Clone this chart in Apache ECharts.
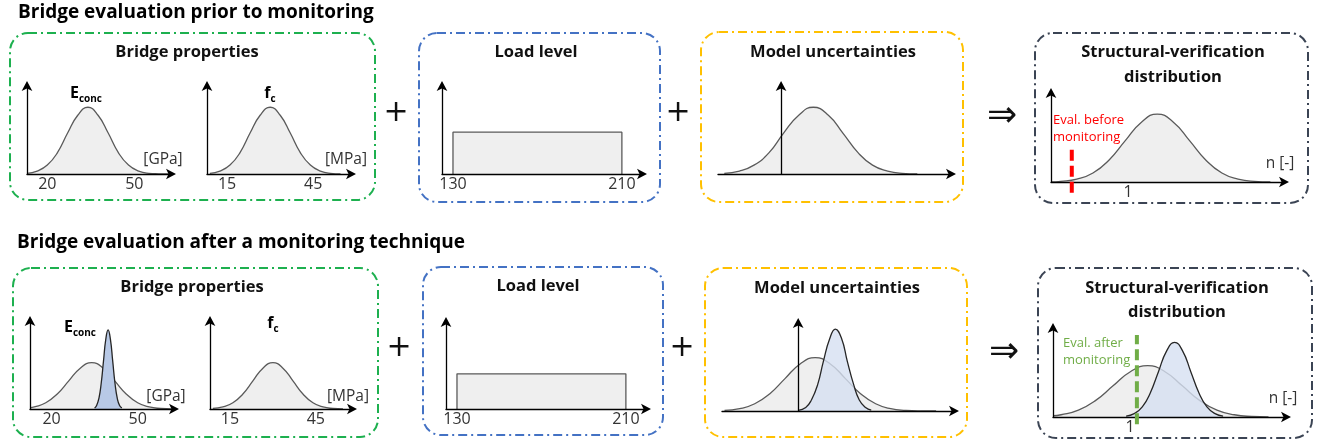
<!DOCTYPE html>
<html>
<head>
<meta charset="utf-8">
<script src="https://cdn.jsdelivr.net/npm/echarts/dist/echarts.min.js"></script>
<style>
html,body{margin:0;padding:0;background:#fff;}
#chart{width:1322px;height:448px;}
</style>
</head>
<body>
<div id="chart"></div>
<script>
// ---------------- DATA ----------------
// tick labels
const econcTicks = [20, 50];
const fcTicks = [15, 45];
const loadTicks = [130, 210];
const structTicks = [1];

// Prior row
const econcPriorX = [13, 16.5, 20, 23.5, 27, 30.5, 34, 37.5, 41, 44.5, 48, 51.5, 55, 58.5, 62];
const econcPriorY = [0.008, 0.033, 0.10, 0.24, 0.46, 0.66, 0.75, 0.66, 0.46, 0.24, 0.10, 0.033, 0.008, 0.002, 0.0];
const fcPriorX = [9, 12.5, 16, 19.5, 23, 26.5, 30, 33.5, 37, 40.5, 44, 47.5, 51, 54.5];
const fcPriorY = [0.008, 0.033, 0.10, 0.24, 0.46, 0.66, 0.75, 0.66, 0.46, 0.24, 0.10, 0.033, 0.008, 0.002];
const loadX = [130, 130, 210, 210];
const loadPriorY = [0, 0.47, 0.47, 0];
const modelPriorX = [-0.9, -0.66, -0.43, -0.19, 0.04, 0.28, 0.51, 0.75, 0.98, 1.22, 1.45, 1.69, 1.92, 2.16];
const modelPriorY = [0.008, 0.033, 0.10, 0.24, 0.46, 0.66, 0.75, 0.66, 0.46, 0.24, 0.10, 0.033, 0.008, 0.002];
const structPriorX = [0, 0.125, 0.335, 0.545, 0.755, 0.965, 1.175, 1.38, 1.59, 1.80, 2.01, 2.22, 2.43, 2.64, 2.85];
const structPriorY = [0.002, 0.008, 0.033, 0.10, 0.245, 0.46, 0.665, 0.755, 0.665, 0.46, 0.245, 0.10, 0.033, 0.008, 0.002];
const evalBeforeX = [0.27, 0.27];
const evalBeforeY = [-0.12, 0.38];

// After-monitoring row
const econcAfterGreyX = [12.5, 14, 18, 22, 26, 30, 34, 38, 42, 46, 50, 54, 58, 62];
const econcAfterGreyY = [0.014, 0.023, 0.07, 0.169, 0.316, 0.459, 0.52, 0.459, 0.316, 0.169, 0.07, 0.023, 0.006, 0.001];
const econcAfterBlueX = [35, 35.7, 36.5, 37.3, 38.1, 38.9, 39.7, 40.5, 41.3, 42.1, 42.9, 43.7, 44.5];
const econcAfterBlueY = [0.012, 0.039, 0.12, 0.289, 0.54, 0.785, 0.89, 0.785, 0.54, 0.289, 0.12, 0.039, 0.012];
const fcAfterX = [9, 12.5, 16, 19.5, 23, 26.5, 30, 33.5, 37, 40.5, 44, 47.5, 51, 54.5];
const fcAfterY = [0.006, 0.023, 0.07, 0.169, 0.316, 0.459, 0.52, 0.459, 0.316, 0.169, 0.07, 0.023, 0.006, 0.001];
const loadAfterY = [0, 0.40, 0.40, 0];
const modelAfterGreyX = [-1.17, -0.93, -0.69, -0.45, -0.21, 0.03, 0.27, 0.51, 0.75, 0.99, 1.23, 1.47, 1.71, 1.95, 2.19];
const modelAfterGreyY = [0.007, 0.026, 0.081, 0.195, 0.364, 0.529, 0.60, 0.529, 0.364, 0.195, 0.081, 0.026, 0.007, 0.001, 0];
const modelAfterBlueX = [0, 0.12, 0.21, 0.31, 0.40, 0.50, 0.59, 0.69, 0.78, 0.88, 0.97, 1.07, 1.16];
const modelAfterBlueY = [0.008, 0.040, 0.124, 0.299, 0.558, 0.811, 0.92, 0.811, 0.558, 0.299, 0.124, 0.040, 0.010];
const structAfterGreyX = [0, 0.105, 0.33, 0.555, 0.78, 1.005, 1.23, 1.455, 1.68, 1.905, 2.13, 2.355, 2.58, 2.8];
const structAfterGreyY = [0.014, 0.025, 0.077, 0.185, 0.346, 0.503, 0.57, 0.503, 0.346, 0.185, 0.077, 0.025, 0.006, 0.001];
const structAfterBlueX = [0.95, 1.055, 1.16, 1.265, 1.37, 1.475, 1.58, 1.685, 1.79, 1.895, 2.0, 2.105, 2.21];
const structAfterBlueY = [0.009, 0.037, 0.112, 0.27, 0.504, 0.732, 0.83, 0.732, 0.504, 0.27, 0.112, 0.037, 0.009];
const evalAfterX = [1.09, 1.09];
const evalAfterY = [-0.08, 0.91];

// ---------------- LAYOUT / STYLE ----------------
const FONT = '"Open Sans", "Noto Sans", sans-serif';
const GREY_FILL = '#efefef', GREY_LINE = '#5a5a5a';
const BLUE_FILL = '#b8c9e6', BLUE_FILL2 = '#d6e0f1', BLUE_LINE = '#262626';

const panels = [
  // top row
  {rect:[27, 85, 145, 89], min:13, max:63, ticks:econcTicks},
  {rect:[207, 85, 145, 89], min:8, max:58.5, ticks:fcTicks},
  {rect:[442, 85, 201, 89], min:124.8, max:220, ticks:loadTicks},
  {rect:[718, 85, 234, 89], min:-1.0, max:2.71, ticks:[]},
  {rect:[1051, 92, 234, 90], min:0, max:3.04, ticks:structTicks},
  // bottom row
  {rect:[30, 320, 145, 89], min:12.5, max:63, ticks:econcTicks},
  {rect:[210, 320, 143, 89], min:8, max:58, ticks:fcTicks},
  {rect:[446, 321, 201, 88], min:124.8, max:220, ticks:loadTicks},
  {rect:[722, 322, 233, 89], min:-1.21, max:2.49, ticks:[]},
  {rect:[1053, 327, 234, 90], min:0, max:3.04, ticks:structTicks}
];

const axisLineStyle = {color:'#000', width:1.3};
const grids = [], xAxes = [], yAxes = [];
panels.forEach((p, i) => {
  grids.push({left:p.rect[0], top:p.rect[1], width:p.rect[2], height:p.rect[3], containLabel:false});
  xAxes.push({
    gridIndex:i, type:'value', min:p.min, max:p.max, z:5,
    axisLine:{show:true, onZero:true, symbol:['none','arrow'], symbolSize:[8,10], symbolOffset:[0,4], lineStyle:axisLineStyle},
    axisTick:{show:false}, splitLine:{show:false},
    axisLabel:{show:p.ticks.length > 0, customValues:p.ticks, fontSize:16, color:'#333', margin:2, fontFamily:FONT, hideOverlap:false}
  });
  yAxes.push({
    gridIndex:i, type:'value', min:0, max:1, z:5,
    axisLine:{show:true, onZero:true, symbol:['none','arrow'], symbolSize:[8,10], symbolOffset:[0,4], lineStyle:axisLineStyle},
    axisTick:{show:false}, splitLine:{show:false}, axisLabel:{show:false}
  });
});

function zip(xs, ys){ return xs.map((x, i) => [x, ys[i]]); }
function curve(gi, xs, ys, fill, stroke, z, fillOpacity, smooth){
  return {
    type:'line', xAxisIndex:gi, yAxisIndex:gi, data:zip(xs, ys),
    smooth: smooth === undefined ? true : smooth,
    symbol:'none', showSymbol:false, silent:true, z:z,
    lineStyle:{color:stroke, width:1.3},
    areaStyle:{color:fill, opacity:fillOpacity === undefined ? 1 : fillOpacity}
  };
}
function evalLine(gi, xs, ys, color){
  return {
    type:'line', xAxisIndex:gi, yAxisIndex:gi, data:zip(xs, ys), clip:false,
    symbol:'none', showSymbol:false, silent:true, z:10,
    lineStyle:{color:color, width:4, type:[11,5]}
  };
}

const series = [
  curve(0, econcPriorX, econcPriorY, GREY_FILL, GREY_LINE, 2),
  curve(1, fcPriorX, fcPriorY, GREY_FILL, GREY_LINE, 2),
  curve(2, loadX, loadPriorY, GREY_FILL, GREY_LINE, 2, 1, false),
  curve(3, modelPriorX, modelPriorY, GREY_FILL, GREY_LINE, 2),
  curve(4, structPriorX, structPriorY, GREY_FILL, GREY_LINE, 2),
  evalLine(4, evalBeforeX, evalBeforeY, '#ff0000'),
  curve(5, econcAfterGreyX, econcAfterGreyY, GREY_FILL, GREY_LINE, 2),
  curve(5, econcAfterBlueX, econcAfterBlueY, BLUE_FILL, BLUE_LINE, 3, 1),
  curve(6, fcAfterX, fcAfterY, GREY_FILL, GREY_LINE, 2),
  curve(7, loadX, loadAfterY, GREY_FILL, GREY_LINE, 2, 1, false),
  curve(8, modelAfterGreyX, modelAfterGreyY, GREY_FILL, GREY_LINE, 2),
  curve(8, modelAfterBlueX, modelAfterBlueY, BLUE_FILL2, BLUE_LINE, 3, 0.8),
  curve(9, structAfterGreyX, structAfterGreyY, GREY_FILL, GREY_LINE, 2),
  curve(9, structAfterBlueX, structAfterBlueY, BLUE_FILL2, BLUE_LINE, 3, 0.8),
  evalLine(9, evalAfterX, evalAfterY, '#70ad47')
];

// ---------------- GRAPHICS (boxes, texts) ----------------
const DASH = [9, 4, 2, 4];
function box(x, y, w, h, color){
  return {type:'rect', z:1, silent:true, shape:{x:x, y:y, width:w, height:h, r:18},
    style:{fill:'none', stroke:color, lineWidth:2, lineDash:DASH}};
}
function txt(x, y, text, size, weight, color, align, family){
  return {type:'text', x:x, y:y, z:20, silent:true,
    style:{text:text, fontSize:size, fontWeight:weight || 'normal', fontFamily:family || FONT,
      fill:color || '#000', align:align || 'center', verticalAlign:'middle'}};
}
function sub(x, y, main, low){
  return {type:'text', x:x, y:y, z:20, silent:true,
    style:{text:'{a|' + main + '}{b|' + low + '}', align:'center', verticalAlign:'middle',
      rich:{
        a:{fontSize:16, fontWeight:'bold', fontFamily:FONT, fill:'#000', lineHeight:20, verticalAlign:'bottom'},
        b:{fontSize:10, fontWeight:'bold', fontFamily:FONT, fill:'#000', lineHeight:14, verticalAlign:'bottom', padding:[0,0,-3,0]}
      }}};
}

const C_GREEN = '#1db04f', C_BLUE = '#4472c4', C_YELLOW = '#ffc000', C_DARK = '#3b4454';
const graphic = [
  txt(18, 13, 'Bridge evaluation prior to monitoring', 19, 'bold', '#000', 'left'),
  txt(17, 243, 'Bridge evaluation after a monitoring technique', 19, 'bold', '#000', 'left'),
  // top boxes
  box(10, 33, 365, 167, C_GREEN),
  box(419, 33, 241, 169, C_BLUE),
  box(701, 32, 262, 170, C_YELLOW),
  box(1035, 33, 273, 170, C_DARK),
  // bottom boxes
  box(13, 268, 365, 169, C_GREEN),
  box(423, 267, 240, 168, C_BLUE),
  box(705, 268, 262, 169, C_YELLOW),
  box(1038, 268, 274, 170, C_DARK),
  // box titles
  txt(187, 52, 'Bridge properties', 16.5, 'bold', '#111'),
  txt(536, 52, 'Load level', 16.5, 'bold', '#111'),
  txt(833, 52, 'Model uncertainties', 16.5, 'bold', '#111'),
  txt(1173, 52, 'Structural-verification', 16.5, 'bold', '#111'),
  txt(1173, 77, 'distribution', 16.5, 'bold', '#111'),
  txt(192, 287, 'Bridge properties', 16.5, 'bold', '#111'),
  txt(538, 286, 'Load level', 16.5, 'bold', '#111'),
  txt(837, 288, 'Model uncertainties', 16.5, 'bold', '#111'),
  txt(1177, 288, 'Structural-verification', 16.5, 'bold', '#111'),
  txt(1177, 312, 'distribution', 16.5, 'bold', '#111'),
  // variable names
  sub(86, 91, 'E', 'conc'),
  sub(270, 91, 'f', 'c'),
  sub(80, 325, 'E', 'conc'),
  sub(273, 321, 'f', 'c'),
  // units
  txt(163, 160, '[GPa]', 15.5, 'normal', '#333'),
  txt(346, 160, '[MPa]', 15.5, 'normal', '#333'),
  txt(1280, 164, 'n [-]', 15.5, 'normal', '#333'),
  txt(166, 397, '[GPa]', 15.5, 'normal', '#333'),
  txt(348, 397, '[MPa]', 15.5, 'normal', '#333'),
  txt(1283, 399, 'n [-]', 15.5, 'normal', '#333'),
  // eval labels
  txt(1053, 120, 'Eval. before', 13, 'normal', '#ff0000', 'left'),
  txt(1053, 137, 'monitoring', 13, 'normal', '#ff0000', 'left'),
  txt(1063, 343, 'Eval. after', 13, 'normal', '#70ad47', 'left'),
  txt(1063, 360, 'monitoring', 13, 'normal', '#70ad47', 'left'),
  // operators
  txt(396, 113, '+', 30, 'normal', '#111', 'center', '"DejaVu Sans"'),
  txt(678, 113, '+', 30, 'normal', '#111', 'center', '"DejaVu Sans"'),
  txt(399, 348, '+', 30, 'normal', '#111', 'center', '"DejaVu Sans"'),
  txt(682, 348, '+', 30, 'normal', '#111', 'center', '"DejaVu Sans"'),
  txt(1002, 117, '\u21D2', 36, 'normal', '#111', 'center', '"DejaVu Sans"'),
  txt(1004, 353, '\u21D2', 36, 'normal', '#111', 'center', '"DejaVu Sans"')
];

const chart = echarts.init(document.getElementById('chart'), null, {renderer:'canvas'});
chart.setOption({
  animation:false,
  backgroundColor:'#fff',
  grid:grids, xAxis:xAxes, yAxis:yAxes, series:series, graphic:graphic
});
</script>
</body>
</html>
